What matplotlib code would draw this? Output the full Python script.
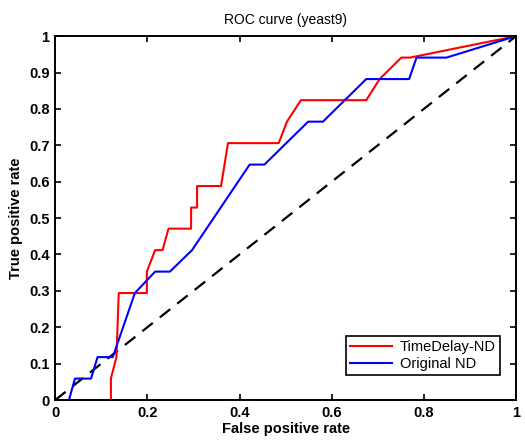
import matplotlib
matplotlib.use('Agg')
import matplotlib.pyplot as plt

plt.rcParams['font.family'] = ['Liberation Sans', 'DejaVu Sans']

# TimeDelay-ND ROC points
td_fpr = [0.0, 0.121, 0.121, 0.133, 0.138, 0.199, 0.199, 0.217, 0.233, 0.246, 0.295, 0.295,
          0.308, 0.308, 0.36, 0.375, 0.485, 0.503, 0.533, 0.675, 0.704, 0.751, 0.77, 1.0]
td_tpr = [0.0, 0.0, 0.059, 0.118, 0.294, 0.294, 0.353, 0.412, 0.412, 0.471, 0.471, 0.529,
          0.529, 0.588, 0.588, 0.706, 0.706, 0.765, 0.824, 0.824, 0.882, 0.941, 0.941, 1.0]

# Original ND ROC points
nd_fpr = [0.0, 0.030, 0.043, 0.078, 0.092, 0.125, 0.173, 0.217, 0.249, 0.297, 0.422, 0.454,
          0.549, 0.581, 0.675, 0.768, 0.784, 0.849, 1.0]
nd_tpr = [0.0, 0.0, 0.059, 0.059, 0.118, 0.118, 0.294, 0.353, 0.353, 0.412, 0.647, 0.647,
          0.765, 0.765, 0.882, 0.882, 0.941, 0.941, 1.0]

fig = plt.figure(figsize=(5.25, 4.46), dpi=100)
ax = fig.add_axes([0.105, 0.103, 0.878, 0.816])

ax.plot([0, 1], [0, 1], color='black', linestyle=(0, (6, 4)), linewidth=1.6)
ax.plot(td_fpr, td_tpr, color='red', linewidth=1.5, label='TimeDelay-ND')
ax.plot(nd_fpr, nd_tpr, color='blue', linewidth=1.5, label='Original ND')

ax.set_xlim(0, 1)
ax.set_ylim(0, 1)
ax.set_xticks([0, 0.2, 0.4, 0.6, 0.8, 1])
ax.set_xticklabels(['0', '0.2', '0.4', '0.6', '0.8', '1'])
ax.set_yticks([i / 10 for i in range(11)])
ax.set_yticklabels(['0'] + ['%.1f' % (i / 10) for i in range(1, 10)] + ['1'])
ax.tick_params(direction='in', top=True, right=True, length=4, width=1.2,
               labelsize=10.5, pad=4)
for lbl in ax.get_xticklabels() + ax.get_yticklabels():
    lbl.set_fontweight('bold')
for sp in ax.spines.values():
    sp.set_linewidth(1.4)

ax.set_xlabel('False positive rate', fontsize=10.5, fontweight='bold', labelpad=2)
ax.set_ylabel('True positive rate', fontsize=10.5, fontweight='bold', labelpad=4)
ax.set_title('ROC curve (yeast9)', fontsize=10, pad=9)

leg = ax.legend(loc='lower right', bbox_to_anchor=(0.965, 0.068), borderaxespad=0,
                fontsize=10.5, fancybox=False, framealpha=1, edgecolor='black',
                handlelength=2.9, handletextpad=0.5, borderpad=0.3, labelspacing=0.2)
leg.get_frame().set_linewidth(1.2)

fig.savefig('out.png', dpi=100)
